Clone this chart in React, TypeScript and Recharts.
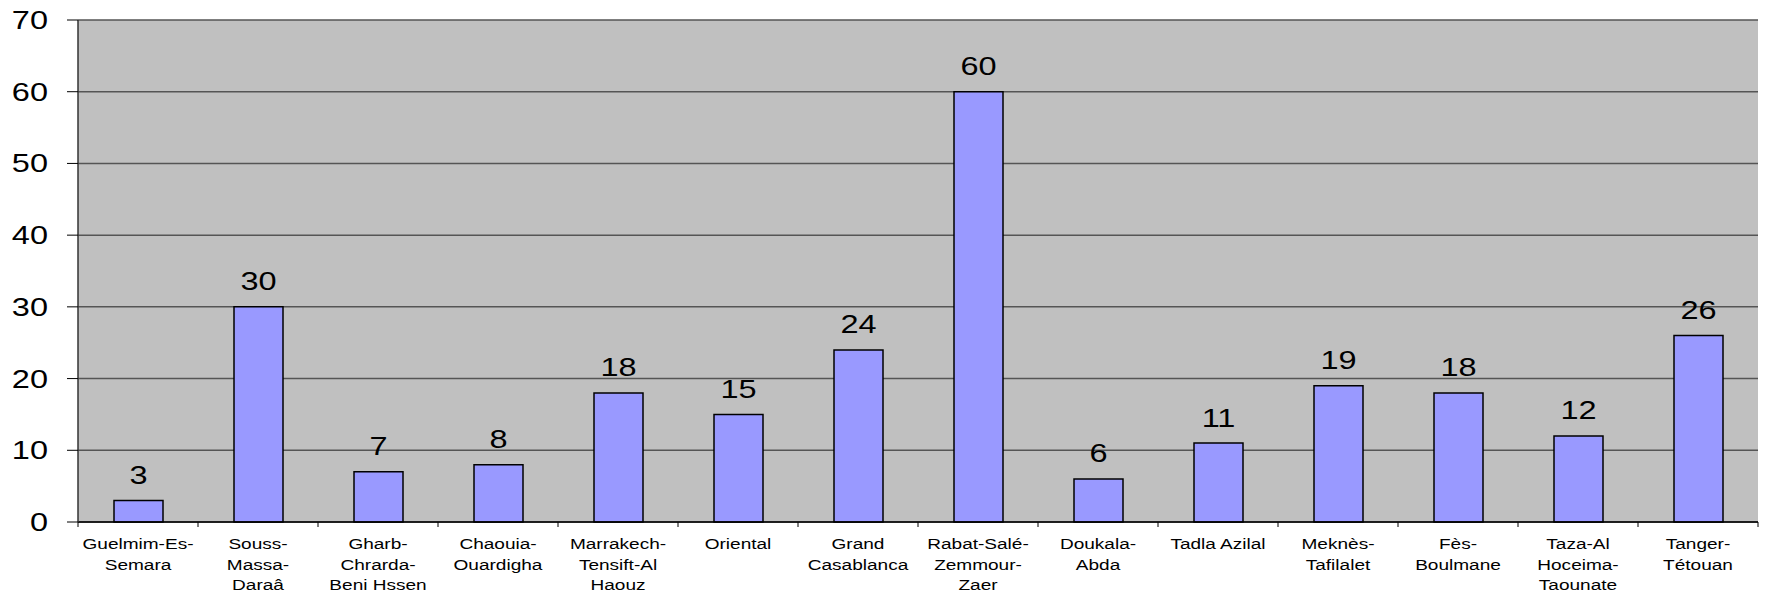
import {
  BarChart,
  Bar,
  XAxis,
  YAxis,
  CartesianGrid,
  LabelList,
} from "recharts";

// Regions (line breaks where the axis labels wrap) and their counts
const regions = [
  "Guelmim-Es-\nSemara",
  "Souss-\nMassa-\nDaraâ",
  "Gharb-\nChrarda-\nBeni Hssen",
  "Chaouia-\nOuardigha",
  "Marrakech-\nTensift-Al\nHaouz",
  "Oriental",
  "Grand\nCasablanca",
  "Rabat-Salé-\nZemmour-\nZaer",
  "Doukala-\nAbda",
  "Tadla Azilal",
  "Meknès-\nTafilalet",
  "Fès-\nBoulmane",
  "Taza-Al\nHoceima-\nTaounate",
  "Tanger-\nTétouan",
];
const counts = [3, 30, 7, 8, 18, 15, 24, 60, 6, 11, 19, 18, 12, 26];
const yTicks = [0, 10, 20, 30, 40, 50, 60, 70];

const data = regions.map((region, i) => ({ region, count: counts[i] }));

const FONT = "'Liberation Sans', Arial, sans-serif";
const WIDE = 1.3; // text is drawn horizontally widened

const YTick = (props: any) => {
  const { x, y, payload } = props;
  return (
    <g transform={`translate(${x},${y}) scale(${WIDE},1)`}>
      <text x={0} y={0} dy="0.36em" textAnchor="end" fontFamily={FONT} fontSize={25} fill="#000">
        {payload.value}
      </text>
    </g>
  );
};

const XTick = (props: any) => {
  const { x, y, payload, index } = props;
  const axisY = y - 10;
  const half = payload.offset ?? 60;
  const lines = String(payload.value).split("\n");
  return (
    <g>
      <line x1={x - half} x2={x - half} y1={axisY} y2={axisY + 5} stroke="#000" />
      {index === regions.length - 1 && (
        <line x1={x + half} x2={x + half} y1={axisY} y2={axisY + 5} stroke="#000" />
      )}
      <g transform={`translate(${x},${axisY + 27}) scale(1.27,1)`}>
        <text textAnchor="middle" fontFamily={FONT} fontSize={15} fill="#000">
          {lines.map((l, i) => (
            <tspan key={i} x={0} y={i * 20.7}>
              {l}
            </tspan>
          ))}
        </text>
      </g>
    </g>
  );
};

const ValueLabel = (props: any) => {
  const { x, y, width, value } = props;
  return (
    <g transform={`translate(${x + width / 2},${y - 16.5}) scale(${WIDE},1)`}>
      <text x={0} y={0} textAnchor="middle" fontFamily={FONT} fontSize={25} fill="#000">
        {value}
      </text>
    </g>
  );
};

export default function App() {
  return (
    <div style={{ position: "absolute", left: 0, top: 0, background: "#fff" }}>
      <BarChart
        width={1767}
        height={596}
        data={data}
        margin={{ top: 20, right: 9, left: 0, bottom: 0 }}
      >
        <CartesianGrid vertical={false} stroke="#555" strokeWidth={1.5} fill="#C0C0C0" />
        <XAxis
          dataKey="region"
          interval={0}
          height={74}
          tickLine={false}
          tickSize={5}
          tickMargin={5}
          axisLine={{ stroke: "#000", strokeWidth: 1.5 }}
          tick={<XTick />}
        />
        <YAxis
          domain={[0, 70]}
          ticks={yTicks}
          width={78}
          tickSize={11}
          tickMargin={19}
          tickLine={{ stroke: "#000" }}
          axisLine={{ stroke: "#333", strokeWidth: 1.5 }}
          tick={<YTick />}
        />
        <YAxis
          yAxisId="edge"
          orientation="right"
          width={0}
          tick={false}
          tickLine={false}
          axisLine={{ stroke: "#808080", strokeWidth: 2 }}
        />
        <Bar
          dataKey="count"
          barSize={49}
          fill="#9999FF"
          stroke="#000"
          strokeWidth={1.5}
          isAnimationActive={false}
        >
          <LabelList dataKey="count" content={<ValueLabel />} />
        </Bar>
      </BarChart>
    </div>
  );
}
